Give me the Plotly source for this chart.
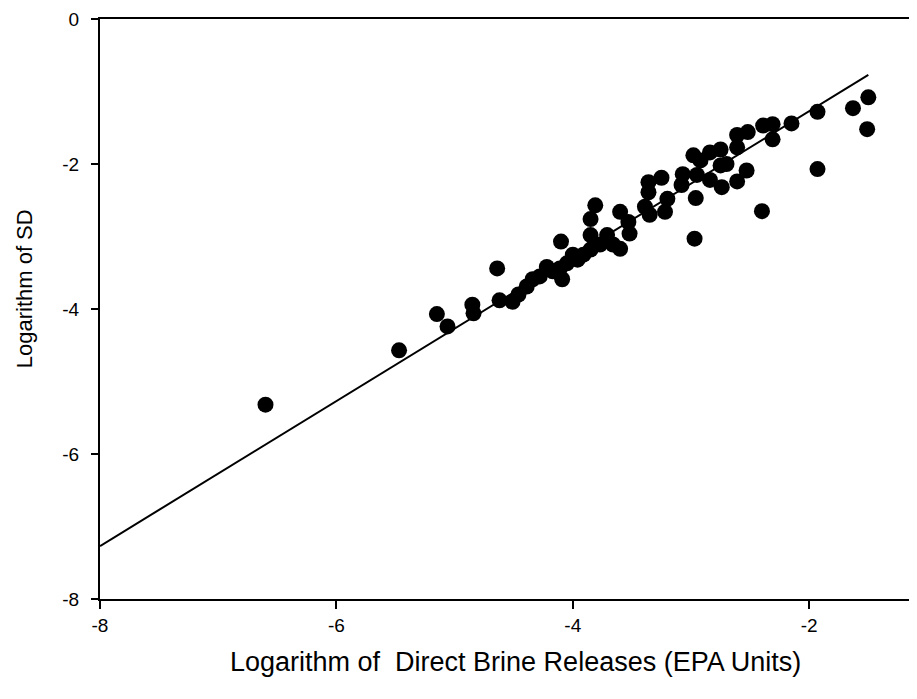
import plotly.graph_objects as go

log_releases = [-6.60, -5.47, -5.15, -5.06, -4.85, -4.84, -4.64, -4.62, -4.51, -4.46,
                -4.39, -4.34, -4.28, -4.22, -4.17, -4.11, -4.09, -4.10, -4.05, -4.00,
                -3.91, -3.96, -3.85, -3.81, -3.85, -3.85, -3.77, -3.71, -3.66, -3.60,
                -3.60, -3.53, -3.52, -3.39, -3.35, -3.36, -3.36, -3.25, -3.20, -3.22,
                -3.08, -3.07, -2.95, -2.84, -2.74, -2.61, -2.53, -2.96, -2.97, -2.40,
                -2.98, -2.92, -2.84, -2.75, -2.70, -2.75, -2.61, -2.61, -2.52, -2.39,
                -2.31, -2.31, -2.15, -1.93, -1.93, -1.63, -1.50, -1.51]
log_sd = [-5.32, -4.57, -4.07, -4.24, -3.94, -4.06, -3.44, -3.88, -3.90, -3.80,
          -3.69, -3.59, -3.55, -3.42, -3.48, -3.44, -3.59, -3.07, -3.37, -3.25,
          -3.25, -3.32, -3.18, -2.57, -2.76, -2.98, -3.11, -2.98, -3.11, -3.17,
          -2.66, -2.80, -2.96, -2.59, -2.70, -2.39, -2.25, -2.19, -2.48, -2.66,
          -2.29, -2.14, -2.15, -2.22, -2.32, -2.24, -2.09, -2.47, -3.03, -2.65,
          -1.88, -1.95, -1.84, -1.80, -2.00, -2.02, -1.77, -1.60, -1.56, -1.47,
          -1.45, -1.66, -1.44, -1.28, -2.07, -1.23, -1.08, -1.52]

fit_x = [-8.0, -1.5]
fit_y = [-7.27, -0.77]

x_ticks = [-8, -6, -4, -2]
y_ticks = [-8, -6, -4, -2, 0]

x_title = "Logarithm of  Direct Brine Releases (EPA Units)"
y_title = "Logarithm of SD"

fig = go.Figure()
fig.add_trace(go.Scatter(x=fit_x, y=fit_y, mode="lines",
                         line=dict(color="black", width=2), hoverinfo="skip"))
fig.add_trace(go.Scatter(x=log_releases, y=log_sd, mode="markers",
                         marker=dict(color="black", size=16, line=dict(width=0))))

font = "Liberation Sans, Arial, sans-serif"
fig.update_layout(
    width=901, height=683,
    margin=dict(l=92, r=0, t=11, b=92, autoexpand=False),
    paper_bgcolor="white", plot_bgcolor="white",
    showlegend=False,
    font=dict(family=font, color="black", size=19),
    xaxis=dict(range=[-8, -1.156], tickvals=x_ticks, ticktext=[str(v) for v in x_ticks],
               showgrid=False, zeroline=False, showline=True, linecolor="black", linewidth=2,
               mirror=True, ticks="outside", ticklen=8, tickwidth=2, tickcolor="black",
               automargin=False, ticklabeloverflow="allow"),
    yaxis=dict(range=[-8, 0], tickvals=y_ticks, ticktext=[str(v) for v in y_ticks],
               showgrid=False, zeroline=False, showline=True, linecolor="black", linewidth=2,
               mirror=False, ticks="outside", ticklen=7, tickwidth=2, tickcolor="black",
               automargin=False, ticklabeloverflow="allow", ticklabelstandoff=8),
    annotations=[
        dict(text=x_title, xref="paper", yref="paper", x=0.508 * 817 / 809, y=-63 / 580,
             xanchor="center", yanchor="middle", showarrow=False,
             font=dict(size=27)),
        dict(text=y_title, xref="paper", yref="paper", x=-76 / 809, y=0.534,
             xanchor="center", yanchor="middle", showarrow=False, textangle=-90,
             font=dict(size=22)),
    ],
)
fig.write_html("out.html")
